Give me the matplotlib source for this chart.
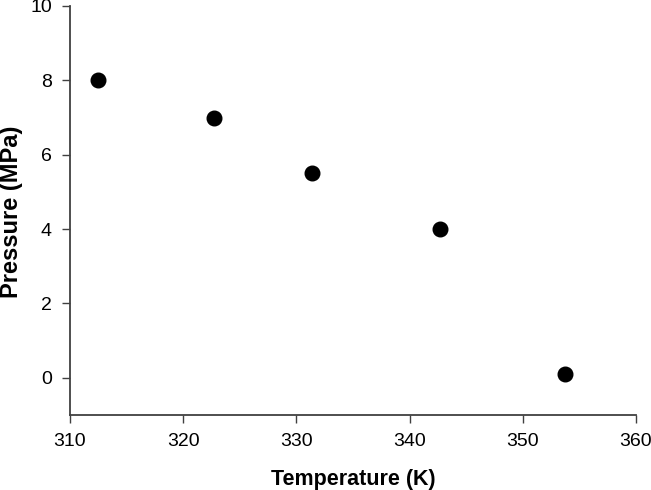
import matplotlib
matplotlib.use("Agg")
import matplotlib.pyplot as plt

temperature = [312.5, 322.7, 331.4, 342.7, 353.7]
pressure = [8.0, 7.0, 5.5, 4.0, 0.1]
xticks = [310, 320, 330, 340, 350, 360]
yticks = [0, 2, 4, 6, 8, 10]

plt.rcParams['font.family'] = ['Liberation Sans', 'DejaVu Sans']

fig = plt.figure(figsize=(6.51, 4.90), dpi=100)
ax = fig.add_axes([70/651, 1-415/490, (636-70)/651, (415-6)/490])
ax.plot(temperature, pressure, 'o', color='black', markersize=10.5, clip_on=False)
ax.set_xlim(310, 360)
ax.set_ylim(-1, 10)
ax.set_xticks(xticks)
ax.set_yticks(yticks)
for s in ['top', 'right']:
    ax.spines[s].set_visible(False)
for s in ['left', 'bottom']:
    ax.spines[s].set_color('#404040')
    ax.spines[s].set_linewidth(1.3)
ax.tick_params(direction='out', length=6, width=1.0, color='#404040', labelsize=14, pad=7)
ax.set_xlabel('Temperature (K)', fontsize=15.5, fontweight='bold')
ax.set_ylabel('Pressure (MPa)', fontsize=17, fontweight='bold')
ax.xaxis.set_label_coords(0.5, -(469-415)/409)
ax.yaxis.set_label_coords(-(70-23)/566, (415-212)/409)
fig.savefig('out.png', dpi=100)
